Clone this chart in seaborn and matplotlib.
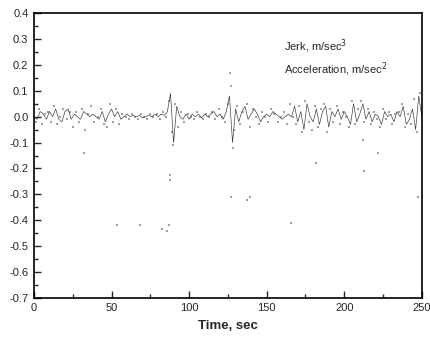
import numpy as np
import pandas as pd
import matplotlib
matplotlib.use('Agg')
import matplotlib.pyplot as plt
from matplotlib.ticker import MultipleLocator
import seaborn as sns

# acceleration, sampled every 2 s from 0 to 250
accel_time = np.arange(0, 251, 2)
accel = [
    0.0, -0.01, 0.02, 0.01, -0.01, 0.02, 0.0, 0.03, -0.01, -0.02,
    0.02, 0.03, -0.01, 0.01, 0.0, -0.01, 0.02, 0.01, 0.0, 0.01,
    0.0, -0.01, 0.02, -0.02, 0.01, 0.03, 0.0, 0.02, -0.01, 0.0,
    0.01, 0.0, 0.005, 0.0, 0.005, -0.005, 0.0, 0.005, 0.0, 0.01,
    0.0, 0.01, 0.005, 0.02, 0.09, -0.1, 0.04, 0.0, -0.01, 0.01,
    -0.01, 0.01, 0.0, 0.01, -0.005, 0.01, 0.0, 0.01, 0.02, 0.0,
    0.01, -0.01, 0.02, 0.08, -0.1, 0.03, -0.02, 0.02, 0.04, -0.01,
    0.01, 0.03, 0.01, -0.02, 0.0, 0.01, 0.0, 0.02, 0.01, 0.0,
    -0.01, 0.0, 0.01, 0.0, 0.04, -0.02, 0.02, -0.05, 0.05, 0.0,
    -0.02, 0.03, -0.03, 0.02, 0.04, -0.04, 0.02, 0.0, 0.03, -0.01,
    0.02, 0.0, -0.03, 0.05, -0.02, 0.01, 0.05, -0.01, 0.02, -0.02,
    0.01, 0.0, -0.03, 0.02, 0.0, 0.01, -0.02, 0.02, 0.0, 0.04,
    -0.03, -0.01, 0.03, -0.05, 0.08, 0.0,
]

# jerk, sampled every 2 s from 1 to 249
jerk_time = np.arange(1, 250, 2)
jerk = [
    -0.02, 0.03, -0.03, 0.01, 0.02, -0.02, 0.04, -0.03, 0.0, 0.03,
    -0.01, 0.02, -0.04, 0.02, -0.02, 0.03, -0.05, 0.01, 0.04, -0.02,
    0.0, 0.03, -0.03, -0.04, 0.05, -0.02, 0.03, -0.03, 0.01, 0.0,
    -0.01, 0.01, 0.0, -0.01, 0.01, 0.0, -0.01, 0.01, 0.0, 0.01,
    -0.01, 0.02, 0.0, 0.06, -0.06, 0.05, -0.04, 0.02, -0.02, 0.01,
    0.0, -0.01, 0.02, 0.0, -0.01, 0.01, 0.0, 0.02, -0.01, 0.03,
    0.0, -0.02, 0.05, 0.12, -0.05, 0.04, -0.03, 0.02, 0.05, -0.04,
    0.03, 0.0, -0.03, 0.02, 0.0, -0.02, 0.03, 0.01, -0.02, 0.0,
    0.02, -0.03, 0.05, 0.0, -0.03, 0.04, -0.06, 0.06, -0.02, -0.05,
    0.04, -0.04, 0.03, 0.05, -0.06, 0.03, -0.02, 0.04, -0.03, 0.02,
    0.0, -0.04, 0.06, -0.03, 0.03, 0.06, -0.02, 0.03, -0.03, 0.02,
    -0.01, -0.04, 0.03, -0.01, 0.02, -0.03, 0.01, 0.02, 0.05, -0.04,
    0.01, -0.03, 0.07, -0.06, 0.09,
]

# isolated jerk readings away from the main band
spike_time = [32.4, 53.7, 68.5, 82.7, 85.9, 86.8, 88.0, 88.0, 89.8, 126.5,
              127.0, 128.4, 137.0, 139.4, 165.8, 182.0, 212.0, 212.8, 222.0, 247.6]
spike_value = [-0.14, -0.42, -0.42, -0.434, -0.44, -0.42, -0.227, -0.244, -0.11, 0.17,
               -0.31, -0.12, -0.32, -0.31, -0.41, -0.18, -0.09, -0.21, -0.14, -0.31]

jerk_df = pd.DataFrame({'time': np.concatenate([jerk_time, spike_time]),
                        'value': np.concatenate([jerk, spike_value])})
accel_df = pd.DataFrame({'time': accel_time, 'value': accel})

sns.set_style('ticks')
plt.rcParams['font.family'] = ['Liberation Sans', 'DejaVu Sans']

fig = plt.figure(figsize=(4.3, 3.37), dpi=100)
ax = fig.add_axes([0.079, 0.116, 0.902, 0.845])

sns.scatterplot(data=jerk_df, x='time', y='value', ax=ax, color='#a0a0a0', s=1.5,
                marker='s', linewidth=0, label='Jerk, m/sec$^3$')
sns.lineplot(data=accel_df, x='time', y='value', ax=ax, color='#333333', linewidth=0.45,
             label='Acceleration, m/sec$^2$')

ax.set_xlim(0, 250)
ax.set_ylim(-0.7, 0.4)
ax.xaxis.set_major_locator(MultipleLocator(50))
ax.xaxis.set_minor_locator(MultipleLocator(25))
ax.yaxis.set_major_locator(MultipleLocator(0.1))
ax.yaxis.set_minor_locator(MultipleLocator(0.05))
ax.yaxis.set_major_formatter(matplotlib.ticker.FormatStrFormatter('%.1f'))
ax.tick_params(which='major', direction='in', length=5, width=1, labelsize=8, pad=4)
ax.tick_params(which='minor', direction='in', length=3, width=1)
for s in ax.spines.values():
    s.set_linewidth(1.2)
    s.set_color('black')

ax.set_xlabel('Time, sec', fontsize=9.5, fontweight='bold', labelpad=5)
ax.set_ylabel('')

ax.legend(loc='upper left', bbox_to_anchor=(0.62, 0.95), frameon=False, fontsize=8,
          handlelength=0, handletextpad=0, labelspacing=0.45, markerscale=0)

fig.savefig('out.png', dpi=100)
